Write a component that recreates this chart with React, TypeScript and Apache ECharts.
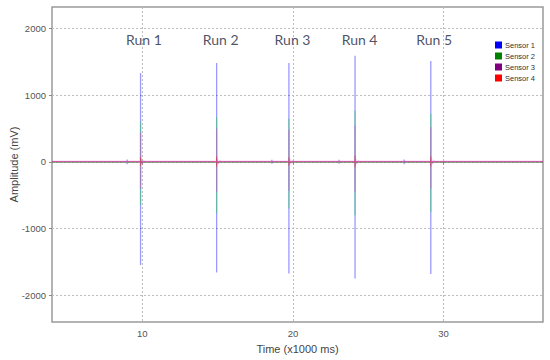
import React, { useEffect, useRef } from "react";
import * as echarts from "echarts";

const sensorNames = ["Sensor 1", "Sensor 2", "Sensor 3", "Sensor 4"];
const sensorColors = ["#0000ff", "#008000", "#800080", "#ff0000"];

const timeStart = 4;
const timeEnd = 36.6;
const xTicks = [10, 20, 30];
const yTicks = [-2000, -1000, 0, 1000, 2000];

const runLabels = ["Run 1", "Run 2", "Run 3", "Run 4", "Run 5"];
const labelTimes = [10.1, 15.2, 19.97, 24.42, 29.37];
const labelLevel = 1835;

const runTimes = [9.88, 14.93, 19.73, 24.12, 29.15];

const s1Peak = [1330, 1480, 1480, 1590, 1510];
const s1Trough = [-1545, -1660, -1675, -1750, -1680];
const s2Peak = [600, 670, 650, 770, 720];
const s2Trough = [-650, -770, -700, -800, -755];
const s3Peak = [440, 500, 480, 550, 520];
const s3Trough = [-400, -450, -430, -455, -400];
const s3InnerPeak = [300, 320, 330, 350, 390];
const s3InnerTrough = [-360, -350, -300, -230, -200];
const s4Peak = [70, 80, 70, 90, 80];
const s4Trough = [-60, -70, -60, -80, -70];

const blipTimes = [8.99, 18.6, 23.06, 27.38];
const blipAmp = [35, 30, 30, 35];

const baseLevels = [0, -8, 8, 0];

type Pt = [number, number];

function buildTrace(
  base: number,
  peaks: number[],
  troughs: number[],
  innerPeaks: number[] | null,
  innerTroughs: number[] | null,
  withBlips: boolean
): Pt[] {
  const events: { t: number; kind: "blip" | "spike"; i: number }[] = [];
  runTimes.forEach((t, i) => events.push({ t, kind: "spike", i }));
  if (withBlips) blipTimes.forEach((t, i) => events.push({ t, kind: "blip", i }));
  events.sort((a, b) => a.t - b.t);
  const pts: Pt[] = [[timeStart, base]];
  for (const e of events) {
    const t = e.t;
    if (e.kind === "blip") {
      const a = blipAmp[e.i];
      pts.push([t, base], [t, base + a], [t, base - a], [t, base]);
    } else {
      const i = e.i;
      pts.push([t, base], [t, peaks[i]], [t, troughs[i]]);
      if (innerPeaks && innerTroughs) {
        const ip = innerPeaks[i];
        const it = innerTroughs[i];
        pts.push(
          [t, ip],
          [t, it],
          [t, ip * 0.5],
          [t, it * 0.5],
          [t, base],
          [t + 0.05, 40],
          [t + 0.1, -30],
          [t + 0.2, 15]
        );
      } else {
        pts.push([t, base]);
      }
      pts.push([t + 0.3, base]);
    }
  }
  pts.push([timeEnd, base]);
  return pts;
}

const traces: Pt[][] = [
  buildTrace(baseLevels[0], s1Peak, s1Trough, null, null, true),
  buildTrace(baseLevels[1], s2Peak, s2Trough, null, null, false),
  buildTrace(baseLevels[2], s3Peak, s3Trough, s3InnerPeak, s3InnerTrough, false),
  buildTrace(baseLevels[3], s4Peak, s4Trough, null, null, false),
];

const lineColors = ["#0000ff", "#38c868", "#e040d0", "#ff0000"];
const lineOpacity = [0.4, 0.55, 0.45, 0.35];

export default function App() {
  const ref = useRef<HTMLDivElement>(null);
  useEffect(() => {
    if (!ref.current) return;
    const chart = echarts.init(ref.current, undefined, { renderer: "svg" });
    const axisLabelStyle = {
      color: "#555",
      fontSize: 9.5,
      fontFamily: "Liberation Sans",
      formatter: (v: number) => String(v),
    };
    chart.setOption({
      animation: false,
      backgroundColor: "#ffffff",
      grid: {
        left: 52,
        right: 7,
        top: 7,
        bottom: 38,
        show: true,
        containLabel: false,
        outerBoundsMode: "none",
        borderColor: "#9a9a9a",
        borderWidth: 1.5,
      },
      legend: {
        orient: "vertical",
        right: 10,
        top: 36,
        itemWidth: 7,
        itemHeight: 7,
        itemGap: 3,
        icon: "rect",
        textStyle: { fontSize: 7.5, color: "#333", fontFamily: "Liberation Sans", padding: [0, 0, 0, -2] },
        data: sensorNames.map((n, i) => ({
          name: n,
          itemStyle: { color: sensorColors[i], opacity: 1 },
        })),
      },
      xAxis: {
        type: "value",
        min: timeStart,
        max: timeEnd,
        name: "Time (x1000 ms)",
        nameLocation: "middle",
        nameGap: 21,
        nameMoveOverlap: false,
        nameTextStyle: { color: "#444", fontSize: 11, fontFamily: "Liberation Sans" },
        axisLine: { show: false },
        axisTick: { show: true, length: 3, lineStyle: { color: "#888" }, customValues: xTicks },
        axisLabel: { ...axisLabelStyle, margin: 6, customValues: xTicks },
        splitLine: { show: true, lineStyle: { color: "#bdbdbd", type: [2, 2] } },
      },
      yAxis: {
        type: "value",
        min: -2400,
        max: 2320,
        name: "Amplitude (mV)",
        nameLocation: "middle",
        nameGap: 33,
        nameMoveOverlap: false,
        nameTextStyle: { color: "#444", fontSize: 11, fontFamily: "Liberation Sans" },
        axisLine: { show: false },
        axisTick: { show: true, length: 3, lineStyle: { color: "#888" }, customValues: yTicks },
        axisLabel: { ...axisLabelStyle, margin: 6, customValues: yTicks },
        splitLine: { show: true, lineStyle: { color: "#bdbdbd", type: [2, 2] } },
      },
      series: [
        ...traces.map((d, i) => ({
          name: sensorNames[i],
          type: "line",
          data: d,
          symbol: "none",
          itemStyle: { color: sensorColors[i] },
          lineStyle: { color: lineColors[i], width: 1.3, opacity: lineOpacity[i] },
          emphasis: { disabled: true },
        })),
        {
          name: "runs",
          type: "scatter",
          symbolSize: 0,
          data: labelTimes.map((t, i) => ({ value: [t, labelLevel], name: runLabels[i] })),
          label: {
            show: true,
            position: "inside",
            formatter: (p: any) => p.name,
            color: "#1b2540",
            fontSize: 14,
            fontFamily: "Lato",
          },
          silent: true,
        },
      ],
    });
    return () => chart.dispose();
  }, []);
  return (
    <div
      ref={ref}
      style={{ position: "absolute", left: 0, top: 0, width: 550, height: 360 }}
    />
  );
}
